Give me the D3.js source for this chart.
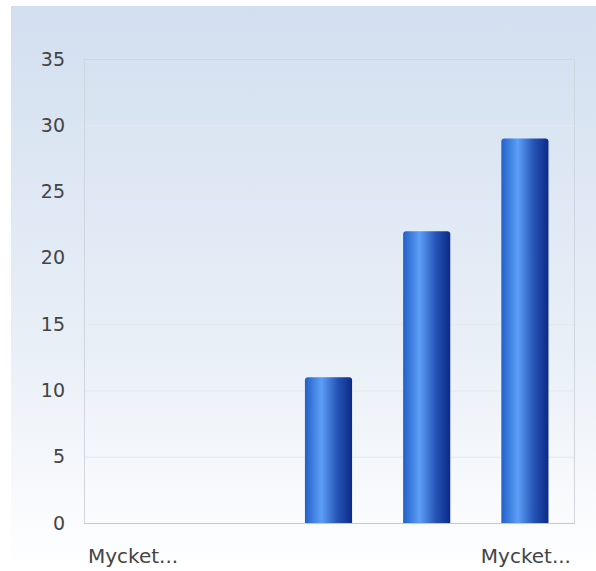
<!DOCTYPE html>
<html>
<head>
<meta charset="utf-8">
<script src="https://cdn.jsdelivr.net/npm/d3@7"></script>
<style>
  body { margin: 0; background: #fff; }
  text { font-family: "DejaVu Sans", Verdana, sans-serif; }
</style>
</head>
<body>
<div id="chart"></div>
<script>
    // data
    var categories = ["Mycket dåligt", "Dåligt", "Varken bra eller dåligt", "Bra", "Mycket bra"];
    var values = [0, 0, 11, 22, 29];
    var shownLabels = ["Mycket...", "", "", "", "Mycket..."];
    var yTicks = [0, 5, 10, 15, 20, 25, 30, 35];

    var svgWidth = 596;
    var svgHeight = 571;

    var margin = { top: 59, right: 21, bottom: 48, left: 84 };
    var width = svgWidth - margin.left - margin.right;
    var height = svgHeight - margin.top - margin.bottom;

    var svg = d3.select("#chart")
        .append("svg")
        .attr("width", svgWidth)
        .attr("height", svgHeight);

    var defs = svg.append("defs");

    // background gradient
    var bg = defs.append("linearGradient")
        .attr("id", "bgGrad")
        .attr("x1", 0).attr("y1", 0).attr("x2", 0).attr("y2", 1);
    bg.append("stop").attr("offset", "0%").attr("stop-color", "#d2dff0");
    bg.append("stop").attr("offset", "60%").attr("stop-color", "#e9eff7");
    bg.append("stop").attr("offset", "100%").attr("stop-color", "#ffffff");

    // bar gradient
    var bar = defs.append("linearGradient")
        .attr("id", "barGrad")
        .attr("x1", 0).attr("y1", 0).attr("x2", 1).attr("y2", 0);
    bar.append("stop").attr("offset", "0%").attr("stop-color", "#2360c8");
    bar.append("stop").attr("offset", "35%").attr("stop-color", "#5c9ef8");
    bar.append("stop").attr("offset", "70%").attr("stop-color", "#2452b4");
    bar.append("stop").attr("offset", "100%").attr("stop-color", "#0b2a88");

    svg.append("rect")
        .attr("x", 11)
        .attr("y", 6)
        .attr("width", svgWidth - 11)
        .attr("height", svgHeight - 6)
        .attr("fill", "url(#bgGrad)");

    var chartGroup = svg.append("g")
        .attr("transform", `translate(${margin.left}, ${margin.top})`);

    // scales
    var xBandScale = d3.scaleBand()
        .domain(categories)
        .range([0, width])
        .paddingInner(0.52)
        .paddingOuter(0.26);

    var yLinearScale = d3.scaleLinear()
        .domain([0, 35])
        .range([height, 0]);

    // grid lines
    chartGroup.selectAll(".grid")
        .data(yTicks.slice(1, -1))
        .enter()
        .append("line")
        .attr("x1", 0)
        .attr("x2", width)
        .attr("y1", d => yLinearScale(d) + 0.5)
        .attr("y2", d => yLinearScale(d) + 0.5)
        .attr("stroke", "#e4e8ee")
        .attr("stroke-width", 1);

    // plot frame
    chartGroup.append("rect")
        .attr("x", 0.5)
        .attr("y", 0.5)
        .attr("width", width - 1)
        .attr("height", height)
        .attr("fill", "none")
        .attr("stroke", "#d0d6de");

    chartGroup.append("line")
        .attr("x1", 0)
        .attr("x2", width)
        .attr("y1", height + 0.5)
        .attr("y2", height + 0.5)
        .attr("stroke", "#c4c9d0");

    // bars
    var r = 3;
    chartGroup.selectAll(".bar")
        .data(values.map((v, i) => ({ cat: categories[i], value: v })).filter(d => d.value > 0))
        .enter()
        .append("path")
        .classed("bar", true)
        .attr("fill", "url(#barGrad)")
        .attr("d", function(d) {
            var x0 = xBandScale(d.cat) - 1;
            var w = xBandScale.bandwidth();
            var y0 = yLinearScale(d.value);
            var y1 = yLinearScale(0);
            return `M${x0},${y1} L${x0},${y0 + r} Q${x0},${y0} ${x0 + r},${y0} ` +
                `L${x0 + w - r},${y0} Q${x0 + w},${y0} ${x0 + w},${y0 + r} L${x0 + w},${y1} Z`;
        });

    // y axis
    var leftAxis = d3.axisLeft(yLinearScale)
        .tickValues(yTicks)
        .tickSize(0)
        .tickPadding(19);

    var yaxis = chartGroup.append("g").call(leftAxis);
    yaxis.select(".domain").remove();
    yaxis.selectAll("text")
        .attr("fill", "#444")
        .style("font-size", "19px");

    // x axis
    var bottomAxis = d3.axisBottom(xBandScale)
        .tickSize(0)
        .tickPadding(26)
        .tickFormat((d, i) => shownLabels[i]);

    var xaxis = chartGroup.append("g")
        .attr("transform", `translate(0, ${height})`)
        .call(bottomAxis);
    xaxis.select(".domain").remove();
    xaxis.selectAll("text")
        .attr("fill", "#444")
        .style("font-size", "20px");
</script>
</body>
</html>
